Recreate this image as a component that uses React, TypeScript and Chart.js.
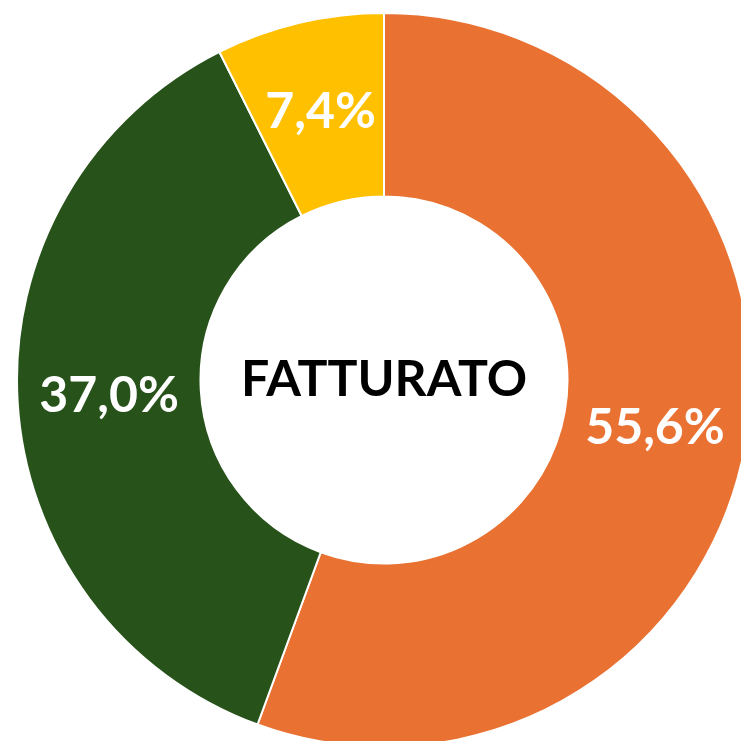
import React, { useEffect, useRef } from "react";
import { Chart, registerables } from "chart.js";

Chart.register(...registerables);

const categories = ["Segmento 1", "Segmento 2", "Segmento 3"];
const values = [55.6, 37.0, 7.4];
const colors = ["#E97132", "#27531A", "#FFC000"];
const centerTitle = "FATTURATO";

const FONT = "Lato, 'Open Sans', sans-serif";

const labelPlugin = {
  id: "sliceLabels",
  afterDatasetsDraw(chart: any) {
    const ctx = chart.ctx;
    const meta = chart.getDatasetMeta(0);
    ctx.save();
    ctx.fillStyle = "#FFFFFF";
    ctx.font = `bold 50px ${FONT}`;
    ctx.textAlign = "center";
    ctx.textBaseline = "middle";
    meta.data.forEach((arc: any, i: number) => {
      const p = arc.tooltipPosition(false);
      const v = chart.data.datasets[0].data[i] as number;
      ctx.fillText(v.toFixed(1).replace(".", ",") + "%", p.x, p.y);
    });
    const ca = chart.chartArea;
    ctx.fillStyle = "#000000";
    ctx.fillText(centerTitle, (ca.left + ca.right) / 2, (ca.top + ca.bottom) / 2);
    ctx.restore();
  },
};

export default function App() {
  const ref = useRef<HTMLCanvasElement | null>(null);
  useEffect(() => {
    if (!ref.current) return;
    const chart = new Chart(ref.current, {
      type: "doughnut",
      data: {
        labels: categories,
        datasets: [
          {
            data: values,
            backgroundColor: colors,
            borderColor: "#FFFFFF",
            borderWidth: 2,
          },
        ],
      },
      options: {
        responsive: false,
        maintainAspectRatio: false,
        animation: false,
        cutout: "50%",
        layout: { padding: 0 },
        plugins: {
          legend: { display: false },
          tooltip: { enabled: false },
        },
      },
      plugins: [labelPlugin],
    });
    return () => chart.destroy();
  }, []);
  return (
    <div
      style={{
        position: "fixed",
        left: 0,
        top: 0,
        width: 741,
        height: 741,
        overflow: "hidden",
        background: "#FFFFFF",
      }}
    >
      <canvas
        ref={ref}
        width={736}
        height={736}
        style={{ position: "absolute", left: 16, top: 12, width: 736, height: 736 }}
      />
    </div>
  );
}
